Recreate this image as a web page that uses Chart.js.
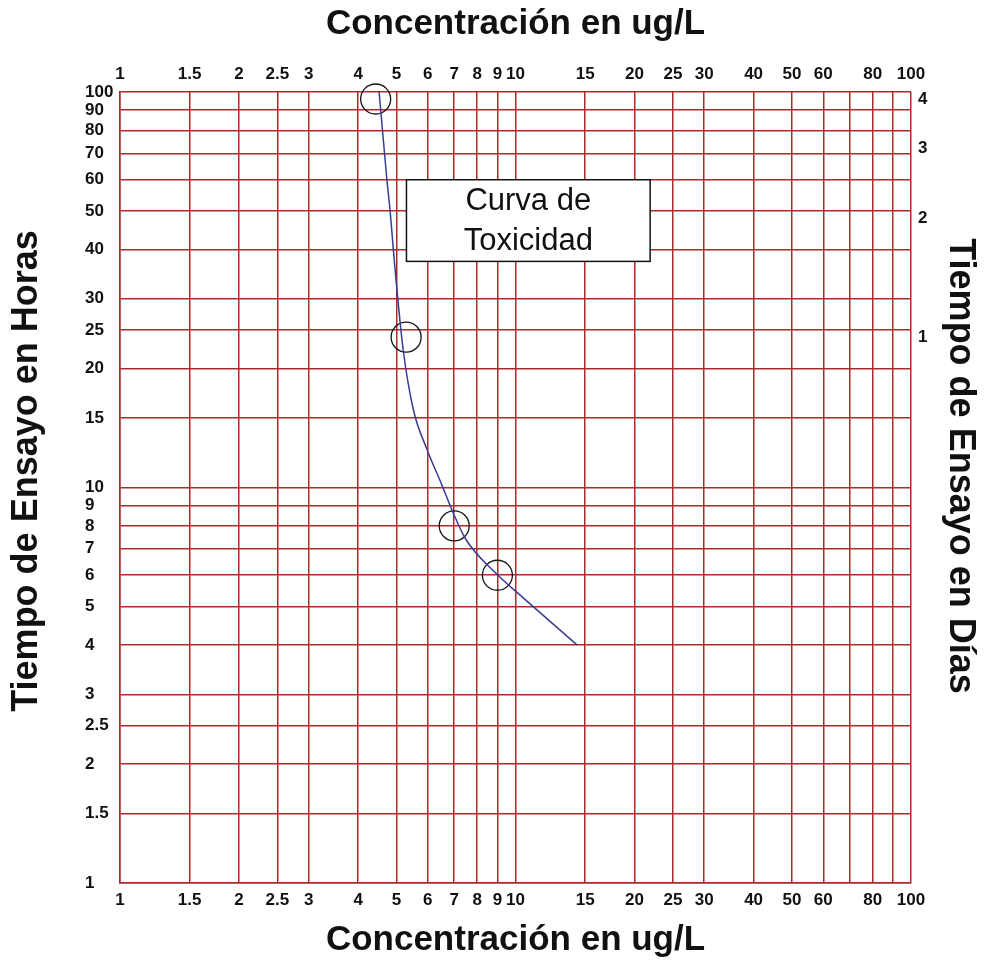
<!DOCTYPE html>
<html>
<head>
<meta charset="utf-8">
<script src="https://cdn.jsdelivr.net/npm/chart.js@4.4.1/dist/chart.umd.min.js"></script>
<style>
  html, body { margin: 0; padding: 0; background: #fff; }
  canvas { display: block; }
</style>
</head>
<body>
<canvas id="toxChart" width="988" height="967"></canvas>
<script>
// concentracion (ug/L) - lineas de la grilla y etiquetas
var xTicks = [1, 1.5, 2, 2.5, 3, 4, 5, 6, 7, 8, 9, 10, 15, 20, 25, 30, 40, 50, 60, 70, 80, 90, 100];
var xTickLabels = ['1', '1.5', '2', '2.5', '3', '4', '5', '6', '7', '8', '9', '10', '15', '20', '25', '30', '40', '50', '60', '', '80', '', '100'];

// tiempo en horas
var yTicks = [1, 1.5, 2, 2.5, 3, 4, 5, 6, 7, 8, 9, 10, 15, 20, 25, 30, 40, 50, 60, 70, 80, 90, 100];
var yTickLabels = ['1', '1.5', '2', '2.5', '3', '4', '5', '6', '7', '8', '9', '10', '15', '20', '25', '30', '40', '50', '60', '70', '80', '90', '100'];

// tiempo en dias (eje derecho)
var dayHours = [24, 48, 72, 96];
var dayLabels = ['1', '2', '3', '4'];

// curva de toxicidad
var curveConc = [4.52, 4.73, 4.82, 4.91, 5.0, 5.2, 5.52, 5.97, 6.5, 6.95, 7.48, 8.95, 10.6, 14.3];
var curveHours = [100, 60, 50, 40, 32.6, 22.3, 15.7, 12.5, 10.2, 8.65, 7.41, 6.05, 5.2, 4];

// puntos medidos
var pointConc = [4.43, 5.29, 7.0, 9.0];
var pointHours = [96, 24, 8, 6];

var fontFamily = "'Liberation Sans', Arial, sans-serif";
var gridRed = '#a92b2b';
var tickFont = { family: fontFamily, size: 17, weight: 'bold' };
var titleFont = { family: fontFamily, size: 35, weight: 'bold' };

function toPoints(xs, ys) {
    return xs.map(function(v, i) { return { x: v, y: ys[i] }; });
}

function fixedTicks(values) {
    return function(scale) {
        scale.ticks = values.map(function(v) { return { value: v }; });
    };
}

// cuadro "Curva de Toxicidad" y titulos laterales
var extras = {
    id: 'extras',
    afterDraw: function(chart) {
        var ctx = chart.ctx;
        var xs = chart.scales.x, ys = chart.scales.y;

        var left = xs.getPixelForValue(5.3), right = xs.getPixelForValue(21.9);
        var top = ys.getPixelForValue(60), bottom = ys.getPixelForValue(37.3);
        ctx.save();
        ctx.fillStyle = '#fff';
        ctx.fillRect(left, top, right - left, bottom - top);
        ctx.strokeStyle = '#111';
        ctx.lineWidth = 1.5;
        ctx.strokeRect(left, top, right - left, bottom - top);
        ctx.fillStyle = '#111';
        ctx.font = '31px ' + fontFamily;
        ctx.textAlign = 'center';
        ctx.textBaseline = 'middle';
        var cx = (left + right) / 2, cy = (top + bottom) / 2;
        ctx.fillText('Curva de', cx, cy - 19);
        ctx.fillText('Toxicidad', cx, cy + 21);
        ctx.restore();

        ctx.save();
        ctx.font = 'bold 36px ' + fontFamily;
        ctx.fillStyle = '#111';
        ctx.textAlign = 'center';
        ctx.textBaseline = 'alphabetic';
        ctx.translate(37, 471);
        ctx.rotate(-Math.PI / 2);
        ctx.fillText('Tiempo de Ensayo en Horas', 0, 0);
        ctx.restore();

        ctx.save();
        ctx.font = 'bold 36px ' + fontFamily;
        ctx.fillStyle = '#111';
        ctx.textAlign = 'center';
        ctx.textBaseline = 'alphabetic';
        ctx.translate(950, 466);
        ctx.rotate(Math.PI / 2);
        ctx.fillText('Tiempo de Ensayo en Días', 0, 0);
        ctx.restore();
    }
};

new Chart(document.getElementById('toxChart'), {
    type: 'scatter',
    data: {
        datasets: [{
            data: toPoints(curveConc, curveHours),
            showLine: true,
            borderColor: '#3b3b93',
            borderWidth: 1.5,
            pointRadius: 0,
            cubicInterpolationMode: 'monotone',
            xAxisID: 'x',
            yAxisID: 'y'
        }, {
            data: toPoints(pointConc, pointHours),
            showLine: false,
            pointStyle: 'circle',
            pointRadius: 15,
            pointBorderWidth: 1.3,
            pointBorderColor: '#111',
            pointBackgroundColor: 'rgba(0,0,0,0)',
            clip: false,
            xAxisID: 'x',
            yAxisID: 'y'
        }]
    },
    options: {
        responsive: false,
        animation: false,
        events: [],
        layout: { padding: { left: 85, right: 0, top: 0, bottom: 0 } },
        plugins: {
            legend: { display: false },
            tooltip: { enabled: false }
        },
        scales: {
            x: {
                type: 'logarithmic',
                position: 'bottom',
                min: 1, max: 100,
                afterBuildTicks: fixedTicks(xTicks),
                afterFit: function(s) { s.height = 84; },
                ticks: {
                    autoSkip: false, maxRotation: 0, minRotation: 0, padding: 7,
                    color: '#111', font: tickFont,
                    callback: function(v, i) { return xTickLabels[i]; }
                },
                grid: { color: gridRed, lineWidth: 1.5, drawTicks: false },
                border: { color: gridRed, width: 1.5 },
                title: { display: true, text: 'Concentración en ug/L', color: '#111', font: titleFont, padding: { top: 0, bottom: 6 } }
            },
            xTop: {
                axis: 'x',
                type: 'logarithmic',
                position: 'top',
                min: 1, max: 100,
                afterBuildTicks: fixedTicks(xTicks),
                afterFit: function(s) { s.height = 92; },
                ticks: {
                    autoSkip: false, maxRotation: 0, minRotation: 0, padding: 7,
                    color: '#111', font: tickFont,
                    callback: function(v, i) { return xTickLabels[i]; }
                },
                grid: { display: false, drawTicks: false },
                border: { display: false },
                title: { display: true, text: 'Concentración en ug/L', color: '#111', font: titleFont, padding: { top: 3, bottom: 0 } }
            },
            y: {
                type: 'logarithmic',
                position: 'left',
                min: 1, max: 100,
                afterBuildTicks: fixedTicks(yTicks),
                afterFit: function(s) { s.width = 35; },
                ticks: {
                    autoSkip: false, crossAlign: 'far', padding: 0,
                    color: '#111', font: tickFont,
                    callback: function(v, i) { return yTickLabels[i]; }
                },
                grid: { color: gridRed, lineWidth: 1.5, drawTicks: false },
                border: { color: gridRed, width: 1.5 }
            },
            yDays: {
                axis: 'y',
                type: 'logarithmic',
                position: 'right',
                min: 1, max: 100,
                afterBuildTicks: fixedTicks(dayHours),
                afterFit: function(s) { s.width = 77; },
                ticks: {
                    autoSkip: false, padding: 7,
                    color: '#111', font: tickFont,
                    callback: function(v, i) { return dayLabels[i]; }
                },
                grid: { display: false, drawTicks: false },
                border: { display: false }
            }
        }
    },
    plugins: [extras]
});
</script>
</body>
</html>
